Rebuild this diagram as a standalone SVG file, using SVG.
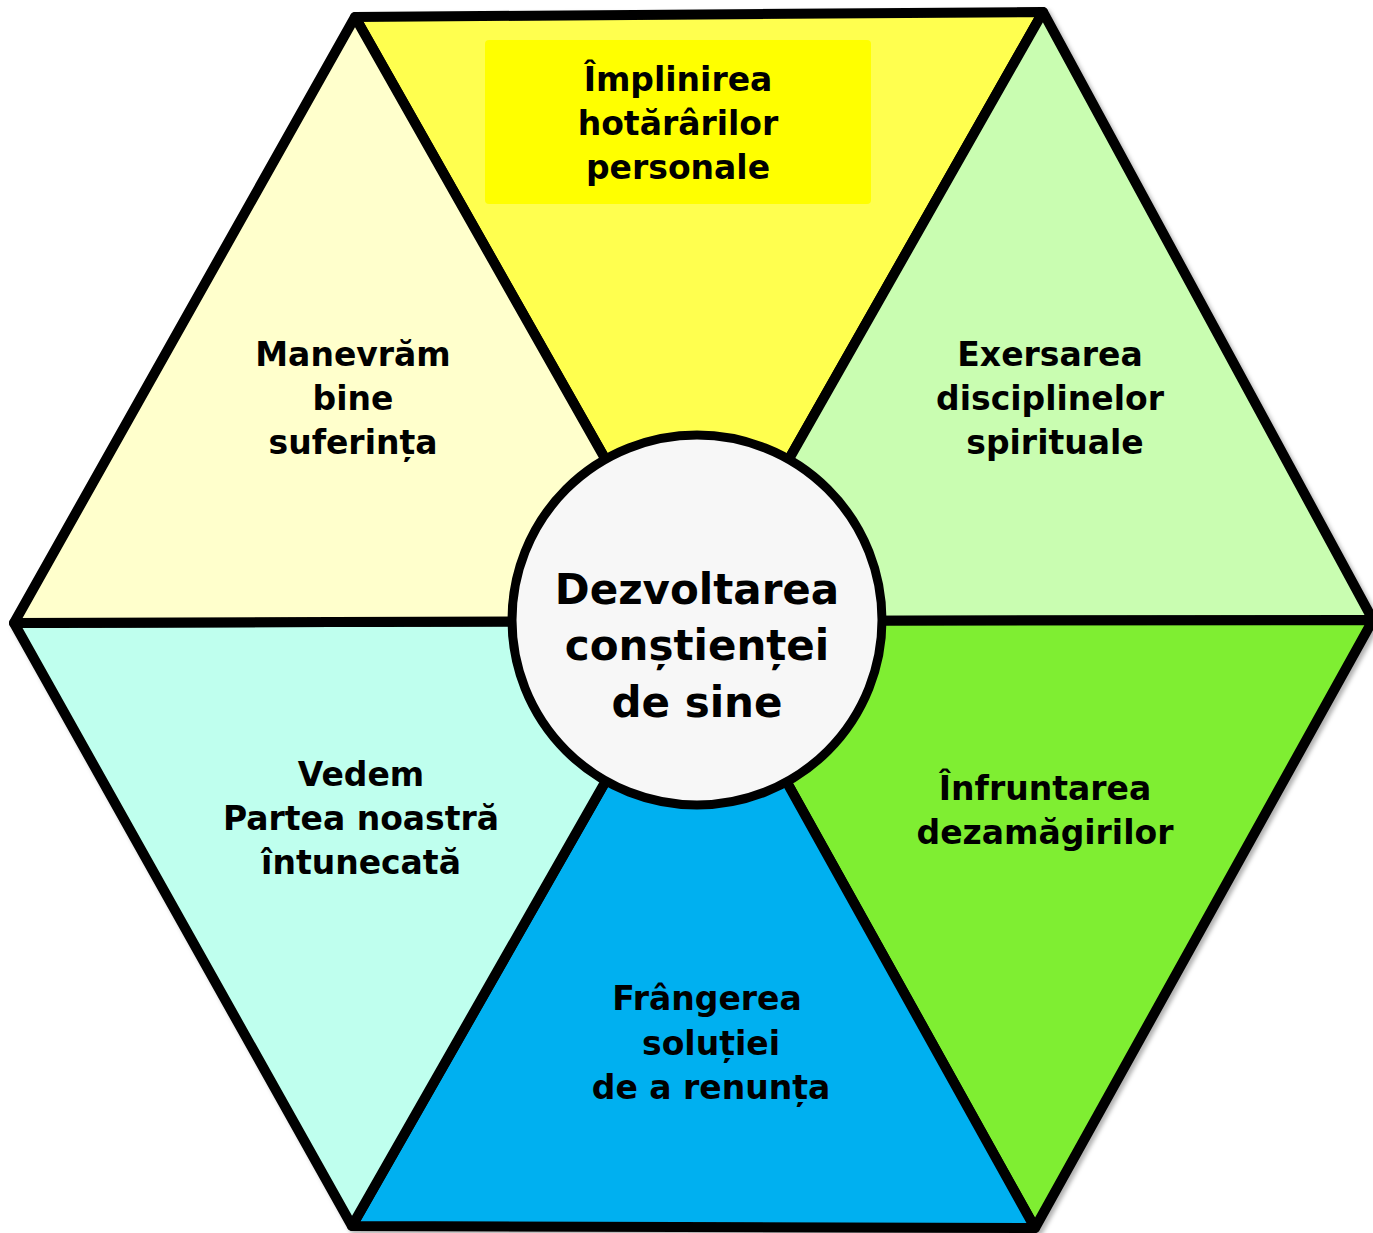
<svg xmlns="http://www.w3.org/2000/svg" width="1373" height="1233" viewBox="0 0 1373 1233">
<defs>
<filter id="sh" x="-5%" y="-5%" width="110%" height="110%">
<feDropShadow dx="3" dy="3" stdDeviation="2" flood-color="#000" flood-opacity="0.3"/>
</filter>
<style>
.tri{stroke:#000;stroke-width:10;stroke-linejoin:round}
.t{font-family:"DejaVu Sans",Verdana,sans-serif;font-weight:bold;font-size:33px;fill:#000;text-anchor:middle}
.c{font-size:42px}
</style>
</defs>
<rect width="1373" height="1233" fill="#fff"/>
<g id="segments" filter="url(#sh)">
<g id="seg-top"><polygon class="tri" points="355,17 1043,12 697,621" fill="#FFFF50"/></g>
<g id="seg-topright"><polygon class="tri" points="1043,12 1373,620 697,621" fill="#C9FDB1"/></g>
<g id="seg-bottomright"><polygon class="tri" points="1373,620 1035,1228 697,621" fill="#7FEE33"/></g>
<g id="seg-bottom"><polygon class="tri" points="1035,1228 352,1226 697,621" fill="#00B0F0"/></g>
<g id="seg-bottomleft"><polygon class="tri" points="352,1226 14,623 697,621" fill="#BFFFEE"/></g>
<g id="seg-topleft"><polygon class="tri" points="14,623 355,17 697,621" fill="#FFFFCC"/></g>
</g>
<g id="labels">
<g id="n-top">
<rect x="485" y="40" width="386" height="164" rx="4" fill="#FFFF00"/>
<text class="t" x="678" y="91">Împlinirea</text>
<text class="t" x="678" y="135">hotărârilor</text>
<text class="t" x="678" y="179">personale</text>
</g>
<g id="n-topleft">
<text class="t" x="353" y="366">Manevrăm</text>
<text class="t" x="353" y="410">bine</text>
<text class="t" x="353" y="454">suferința</text>
</g>
<g id="n-topright">
<text class="t" x="1050" y="366">Exersarea</text>
<text class="t" x="1050" y="410">disciplinelor</text>
<text class="t" x="1055" y="454">spirituale</text>
</g>
<g id="n-bottomleft">
<text class="t" x="361" y="786">Vedem</text>
<text class="t" x="361" y="830">Partea noastră</text>
<text class="t" x="361" y="874">întunecată</text>
</g>
<g id="n-bottomright">
<text class="t" x="1045" y="800">Înfruntarea</text>
<text class="t" x="1045" y="844">dezamăgirilor</text>
</g>
<g id="n-bottom">
<text class="t" x="707" y="1010">Frângerea</text>
<text class="t" x="711" y="1055">soluției</text>
<text class="t" x="711" y="1099">de a renunța</text>
</g>
</g>
<g id="center">
<circle cx="697" cy="620" r="185" fill="#F7F7F7" stroke="#000" stroke-width="9"/>
<text class="t c" x="697" y="604">Dezvoltarea</text>
<text class="t c" x="697" y="660">conștienței</text>
<text class="t c" x="697" y="717">de sine</text>
</g>
</svg>
